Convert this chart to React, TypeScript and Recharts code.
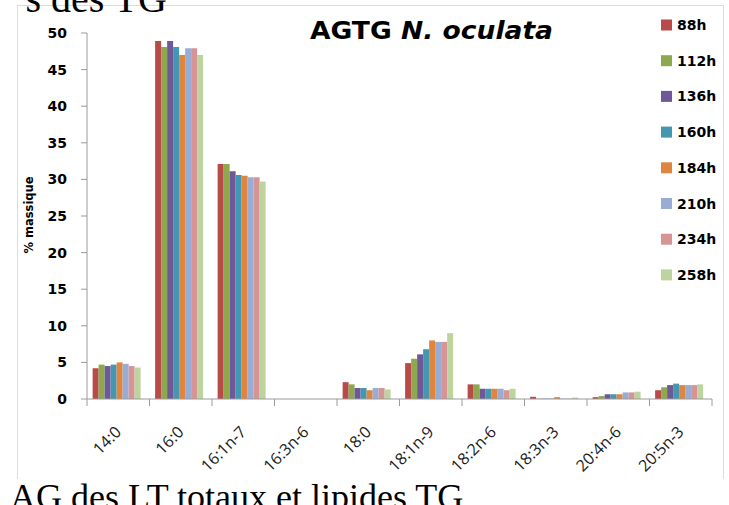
import React from 'react';
import { BarChart, Bar, XAxis, YAxis } from 'recharts';

const categories = ['14:0', '16:0', '16:1n-7', '16:3n-6', '18:0', '18:1n-9', '18:2n-6', '18:3n-3', '20:4n-6', '20:5n-3'];
const seriesNames = ['88h', '112h', '136h', '160h', '184h', '210h', '234h', '258h'];
const seriesColors = ['#B84A48', '#8EA84E', '#6F5898', '#4497B0', '#E0853D', '#97ADD6', '#D69494', '#BDD49F'];

const v88h = [4.2, 48.9, 32.1, 0, 2.3, 4.9, 2.0, 0.3, 0.25, 1.2];
const v112h = [4.7, 48.1, 32.1, 0, 2.0, 5.5, 2.0, 0.05, 0.4, 1.6];
const v136h = [4.5, 48.9, 31.1, 0, 1.5, 6.1, 1.4, 0.05, 0.65, 1.9];
const v160h = [4.7, 48.1, 30.6, 0, 1.5, 6.8, 1.4, 0.05, 0.65, 2.1];
const v184h = [5.0, 47.0, 30.5, 0, 1.2, 8.0, 1.4, 0.25, 0.65, 1.9];
const v210h = [4.8, 47.9, 30.3, 0, 1.5, 7.8, 1.4, 0.05, 0.9, 1.9];
const v234h = [4.5, 47.9, 30.3, 0, 1.5, 7.8, 1.2, 0.05, 0.9, 1.9];
const v258h = [4.3, 47.0, 29.7, 0, 1.3, 9.0, 1.4, 0.2, 1.0, 2.0];
const seriesValues = [v88h, v112h, v136h, v160h, v184h, v210h, v234h, v258h];

const yTicks = [0, 5, 10, 15, 20, 25, 30, 35, 40, 45, 50];
const chartTitle = 'AGTG';
const chartTitleItalic = 'N. oculata';
const yLabel = '% massique';
const pageTextTop = 's des TG';
const pageTextBottom = 'AG des LT totaux et lipides TG';

const data = categories.map((c, i) => {
  const row: any = { name: c };
  seriesNames.forEach((s, j) => {
    row[s] = seriesValues[j][i];
  });
  return row;
});

const CHART_W = 729;
const CHART_H = 505;
const MARGIN = { top: 33, right: 17, bottom: 0, left: 0 };
const Y_AXIS_W = 87;
const X_AXIS_H = 106;
const PLOT_W = CHART_W - MARGIN.left - MARGIN.right - Y_AXIS_W;
const BAND = PLOT_W / categories.length;
const AXIS_COLOR = '#9a9a9a';

const XTick = (props: any) => {
  const { x, y, payload } = props;
  const idx = categories.indexOf(payload.value);
  const tx = x + 4;
  const ty = y + 34;
  return (
    <g>
      <line x1={x - BAND / 2} y1={y} x2={x - BAND / 2} y2={y + 7} stroke={AXIS_COLOR} />
      {idx === categories.length - 1 && (
        <line x1={x + BAND / 2} y1={y} x2={x + BAND / 2} y2={y + 7} stroke={AXIS_COLOR} />
      )}
      <text
        x={tx}
        y={ty}
        transform={`rotate(-45 ${tx} ${ty})`}
        textAnchor="end"
        fontFamily="'Open Sans', sans-serif"
        fontSize={16}
        fill="#1a1a1a"
      >
        {payload.value}
      </text>
    </g>
  );
};

const legendTop = 25;
const legendStep = 35.7;

export default function App() {
  return (
    <div style={{ position: 'absolute', left: 0, top: 0, width: CHART_W, height: CHART_H, overflow: 'hidden', background: '#fff' }}>
      <div
        style={{
          position: 'absolute',
          left: 17,
          top: 5,
          width: 705,
          height: 473,
          borderTop: '1px solid #dcdcdc',
          borderLeft: '1px solid #dcdcdc',
          borderRight: '1px solid #dcdcdc',
        }}
      />
      <div style={{ position: 'absolute', left: 0, top: 0 }}>
        <BarChart width={CHART_W} height={CHART_H} data={data} margin={MARGIN} barCategoryGap="9%" barGap={0}>
          <XAxis
            dataKey="name"
            height={X_AXIS_H}
            interval={0}
            tickSize={0}
            tickMargin={0}
            tickLine={false}
            axisLine={{ stroke: AXIS_COLOR }}
            tick={<XTick />}
          />
          <YAxis
            width={Y_AXIS_W}
            domain={[0, 50]}
            ticks={yTicks}
            interval={0}
            tickSize={6}
            tickMargin={14}
            axisLine={{ stroke: AXIS_COLOR }}
            tickLine={{ stroke: AXIS_COLOR }}
            tick={{ fontFamily: "'DejaVu Sans', sans-serif", fontWeight: 'bold', fontSize: 14, fill: '#000' }}
          />
          {seriesNames.map((s, j) => (
            <Bar key={s} dataKey={s} fill={seriesColors[j]} isAnimationActive={false} />
          ))}
        </BarChart>
      </div>
      <svg width={CHART_W} height={CHART_H} style={{ position: 'absolute', left: 0, top: 0, pointerEvents: 'none' }}>
        <text x={167} y={12} textAnchor="end" fontFamily="'Liberation Serif', serif" fontSize={40} fill="#000">
          {pageTextTop}
        </text>
        <text x={10} y={509} fontFamily="'Liberation Serif', serif" fontSize={36} fill="#000">
          {pageTextBottom}
        </text>
        <text x={310} y={39} fontFamily="'DejaVu Sans', sans-serif" fontWeight="bold" fontSize={24} fill="#000" textLength={243} lengthAdjust="spacingAndGlyphs">
          {chartTitle} <tspan fontStyle="italic">{chartTitleItalic}</tspan>
        </text>
        <text
          x={33}
          y={215}
          transform="rotate(-90 33 215)"
          textAnchor="middle"
          fontFamily="'DejaVu Sans', sans-serif"
          fontWeight="bold"
          fontSize={11.5}
          fill="#000"
        >
          {yLabel}
        </text>
        {seriesNames.map((s, j) => {
          const cy = legendTop + j * legendStep;
          return (
            <g key={s}>
              <rect x={661} y={cy - 5.5} width={11} height={11} fill={seriesColors[j]} />
              <text x={677} y={cy + 5} fontFamily="'DejaVu Sans', sans-serif" fontWeight="bold" fontSize={14} fill="#000">
                {s}
              </text>
            </g>
          );
        })}
      </svg>
    </div>
  );
}
